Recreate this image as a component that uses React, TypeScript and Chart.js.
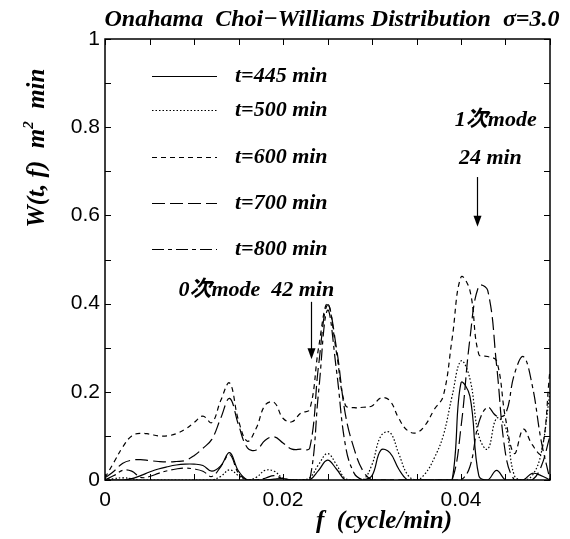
import { useEffect, useRef } from "react";
import { Chart, registerables } from "chart.js";

Chart.register(...registerables);

// Frequency grid (cycle/min)
const FREQ = [
  0, 0.001, 0.002, 0.003, 0.004, 0.005, 0.006, 0.007, 0.008, 0.009,
  0.010, 0.011, 0.012, 0.013, 0.014, 0.015, 0.016, 0.017, 0.018, 0.019,
  0.020, 0.021, 0.022, 0.023, 0.024, 0.025, 0.026, 0.027, 0.028, 0.029,
  0.030, 0.031, 0.032, 0.033, 0.034, 0.035, 0.036, 0.037, 0.038, 0.039,
  0.040, 0.041, 0.042, 0.043, 0.044, 0.045, 0.046, 0.047, 0.048, 0.049,
  0.050,
];

// W(t, f) at each time slice
const W_445 = [
  0, 0, 0, 0.003, 0.01, 0.018, 0.025, 0.03, 0.034, 0.036,
  0.036, 0.033, 0.02, 0.032, 0.062, 0.02, 0, 0, 0, 0.002,
  0.003, 0, 0, 0, 0.022, 0.045, 0.025, 0, 0, 0,
  0.01, 0.068, 0.062, 0.025, 0, 0, 0, 0, 0, 0,
  0.22, 0.19, 0.01, 0, 0.022, 0, 0, 0, 0.015, 0.01,
  0,
];
const W_500 = [
  0, 0.003, 0.005, 0.003, 0, 0, 0, 0, 0, 0,
  0, 0, 0, 0.008, 0.023, 0.01, 0, 0.006, 0.022, 0.02,
  0.004, 0, 0, 0.005, 0.035, 0.06, 0.035, 0.003, 0, 0,
  0.035, 0.1, 0.108, 0.06, 0.012, 0, 0.015, 0.05, 0.1, 0.19,
  0.27, 0.23, 0.1, 0.07, 0.14, 0.12, 0.01, 0, 0.01, 0.06,
  0.2,
];
const W_600 = [
  0.005, 0.04, 0.075, 0.1, 0.106, 0.104, 0.1, 0.1, 0.105, 0.115,
  0.13, 0.145, 0.13, 0.18, 0.22, 0.135, 0.088, 0.118, 0.17, 0.176,
  0.14, 0.132, 0.152, 0.16, 0.3, 0.4, 0.29, 0.17, 0.164, 0.165,
  0.168, 0.186, 0.18, 0.14, 0.112, 0.107, 0.125, 0.16, 0.19, 0.32,
  0.46, 0.43, 0.285, 0.28, 0.27, 0.14, 0.06, 0.115, 0.08, 0.06,
  0.25,
];
const W_700 = [
  0.005, 0.02, 0.038, 0.045, 0.046, 0.044, 0.042, 0.041, 0.042, 0.044,
  0.055, 0.072, 0.092, 0.14, 0.185, 0.125, 0.073, 0.068, 0.09, 0.098,
  0.084, 0.07, 0.07, 0.072, 0.26, 0.397, 0.3, 0.15, 0.07, 0.02,
  0, 0, 0, 0, 0, 0, 0, 0, 0, 0,
  0.12, 0.32, 0.44, 0.43, 0.26, 0.06, 0, 0, 0, 0.03,
  0.1,
];
const W_800 = [
  0, 0.01, 0.022, 0.02, 0.006, 0.008, 0.015, 0.021, 0.025, 0.027,
  0.025, 0.02, 0.008, 0.03, 0.058, 0.015, 0, 0, 0.004, 0.01,
  0.003, 0, 0, 0, 0.2, 0.385, 0.25, 0.08, 0.015, 0,
  0, 0, 0, 0, 0, 0, 0, 0, 0, 0,
  0, 0.03, 0.13, 0.165, 0.145, 0.15, 0.24, 0.28, 0.215, 0.09,
  0,
];

const SERIES_LABELS = ["t=445 min", "t=500 min", "t=600 min", "t=700 min", "t=800 min"];
const X_TICK_LABELS = ["0", "0.02", "0.04"];
const Y_TICK_LABELS = ["0", "0.2", "0.4", "0.6", "0.8", "1"];

const TITLE = "Onahama  Choi\u2212Williams Distribution  \u03c3=3.0";
const X_TITLE = "f  (cycle/min)";
const MODE0_TEXT = "0\u6b21mode  42 min";
const MODE1_TEXT = "1\u6b21mode";
const MODE1_PERIOD = "24 min";

const SERIF = '"Liberation Serif", "Noto Sans CJK JP", serif';
const SANS = '"Liberation Sans", Arial, sans-serif';

const DASHES: number[][] = [[], [1.5, 2], [5, 4], [13, 5], [12, 4, 4, 4]];

const SERIES = [W_445, W_500, W_600, W_700, W_800];

// Legend layout (px)
const LEGEND = { x0: 152, x1: 217, textX: 235, rows: [76, 110, 157, 203, 249] };

const decorPlugin = {
  id: "decor",
  afterDraw(chart: any) {
    const { ctx, chartArea: a, scales } = chart;
    const xs = scales.x;
    const ys = scales.y;
    const TICK = 6;
    ctx.save();

    // frame
    ctx.strokeStyle = "#000";
    ctx.lineWidth = 1.5;
    ctx.setLineDash([]);
    ctx.strokeRect(a.left, a.top, a.right - a.left, a.bottom - a.top);

    // inward ticks on all four sides
    ctx.lineWidth = 1;
    ctx.beginPath();
    xs.ticks.forEach((t: any) => {
      const px = Math.round(xs.getPixelForValue(t.value)) + 0.5;
      ctx.moveTo(px, a.bottom);
      ctx.lineTo(px, a.bottom - TICK);
      ctx.moveTo(px, a.top);
      ctx.lineTo(px, a.top + TICK);
    });
    ys.ticks.forEach((t: any) => {
      const py = Math.round(ys.getPixelForValue(t.value)) + 0.5;
      ctx.moveTo(a.left, py);
      ctx.lineTo(a.left + TICK, py);
      ctx.moveTo(a.right, py);
      ctx.lineTo(a.right - TICK, py);
    });
    ctx.stroke();

    ctx.fillStyle = "#000";

    // title
    ctx.font = `italic bold 24px ${SERIF}`;
    ctx.textAlign = "center";
    ctx.textBaseline = "alphabetic";
    ctx.fillText(TITLE, 332, 26);

    // x-axis title
    ctx.font = `italic bold 25px ${SERIF}`;
    ctx.textBaseline = "middle";
    ctx.fillText(X_TITLE, 384, 522);

    // y-axis title with superscript
    ctx.save();
    ctx.translate(36, 148);
    ctx.rotate(-Math.PI / 2);
    const big = `italic bold 25px ${SERIF}`;
    const small = `italic bold 15px ${SERIF}`;
    const p1 = "W(t, f)  m";
    const p2 = "2";
    const p3 = "  min";
    ctx.font = big;
    const w1 = ctx.measureText(p1).width;
    const w3 = ctx.measureText(p3).width;
    ctx.font = small;
    const w2 = ctx.measureText(p2).width;
    let sx = -(w1 + w2 + w3) / 2;
    ctx.textAlign = "left";
    ctx.textBaseline = "alphabetic";
    ctx.font = big;
    ctx.fillText(p1, sx, 8);
    sx += w1;
    ctx.font = small;
    ctx.fillText(p2, sx, -3);
    sx += w2;
    ctx.font = big;
    ctx.fillText(p3, sx, 8);
    ctx.restore();

    // legend
    ctx.lineWidth = 1.2;
    ctx.font = `italic bold 22px ${SERIF}`;
    ctx.textAlign = "left";
    ctx.textBaseline = "middle";
    LEGEND.rows.forEach((y, i) => {
      ctx.setLineDash(DASHES[i]);
      ctx.beginPath();
      ctx.moveTo(LEGEND.x0, y + 0.5);
      ctx.lineTo(LEGEND.x1, y + 0.5);
      ctx.stroke();
      ctx.setLineDash([]);
      ctx.fillText(SERIES_LABELS[i], LEGEND.textX, y);
    });

    // mode annotations
    ctx.textAlign = "center";
    ctx.fillText(MODE0_TEXT, xs.getPixelForValue(0.0170), ys.getPixelForValue(0.431));
    ctx.fillText(MODE1_TEXT, xs.getPixelForValue(0.0439), ys.getPixelForValue(0.816));
    ctx.fillText(MODE1_PERIOD, xs.getPixelForValue(0.0433), ys.getPixelForValue(0.730));

    const arrow = (f: number, w0: number, w1: number) => {
      const x = Math.round(xs.getPixelForValue(f)) + 0.5;
      const y0 = ys.getPixelForValue(w0);
      const y1 = ys.getPixelForValue(w1);
      ctx.lineWidth = 1.2;
      ctx.beginPath();
      ctx.moveTo(x, y0);
      ctx.lineTo(x, y1 - 9);
      ctx.stroke();
      ctx.beginPath();
      ctx.moveTo(x - 4, y1 - 11);
      ctx.lineTo(x + 4, y1 - 11);
      ctx.lineTo(x, y1);
      ctx.closePath();
      ctx.fill();
    };
    arrow(0.02315, 0.404, 0.274);
    arrow(0.0418, 0.687, 0.574);

    ctx.restore();
  },
};

export default function App() {
  const canvasRef = useRef<HTMLCanvasElement | null>(null);

  useEffect(() => {
    const canvas = canvasRef.current;
    if (!canvas) return;

    const datasets = SERIES.map((vals, i) => ({
      label: SERIES_LABELS[i],
      data: FREQ.map((f, j) => ({ x: f, y: vals[j] })),
      borderColor: "#000",
      borderWidth: 1.2,
      borderDash: DASHES[i],
      pointRadius: 0,
      tension: 0.4,
      fill: false,
    }));

    const chart = new Chart(canvas, {
      type: "line",
      data: { datasets },
      options: {
        responsive: false,
        animation: false,
        devicePixelRatio: 1,
        layout: { padding: { top: 39, right: 20, left: 0, bottom: 0 } },
        plugins: {
          legend: { display: false },
          title: { display: false },
          tooltip: { enabled: false },
        },
        scales: {
          x: {
            type: "linear",
            min: 0,
            max: 0.05,
            afterFit: (s: any) => {
              s.height = 59;
            },
            grid: { display: false, drawTicks: false },
            border: { display: false },
            ticks: {
              stepSize: 0.005,
              autoSkip: false,
              maxRotation: 0,
              padding: 8,
              color: "#000",
              font: { family: SANS, size: 21 },
              callback: (v: any) => {
                const s = String(Number(Number(v).toFixed(3)));
                return X_TICK_LABELS.includes(s) ? s : "";
              },
            },
          },
          y: {
            type: "linear",
            min: 0,
            max: 1,
            afterFit: (s: any) => {
              s.width = 105;
            },
            grid: { display: false, drawTicks: false },
            border: { display: false },
            ticks: {
              stepSize: 0.1,
              autoSkip: false,
              padding: 5,
              color: "#000",
              font: { family: SANS, size: 21 },
              callback: (v: any) => {
                const s = String(Number(Number(v).toFixed(1)));
                return Y_TICK_LABELS.includes(s) ? s : "";
              },
            },
          },
        },
      },
      plugins: [decorPlugin],
    });

    return () => chart.destroy();
  }, []);

  return (
    <div style={{ position: "absolute", left: 0, top: 0, width: 570, height: 539, background: "#fff" }}>
      <canvas ref={canvasRef} width={570} height={539} style={{ width: 570, height: 539, display: "block" }} />
    </div>
  );
}
